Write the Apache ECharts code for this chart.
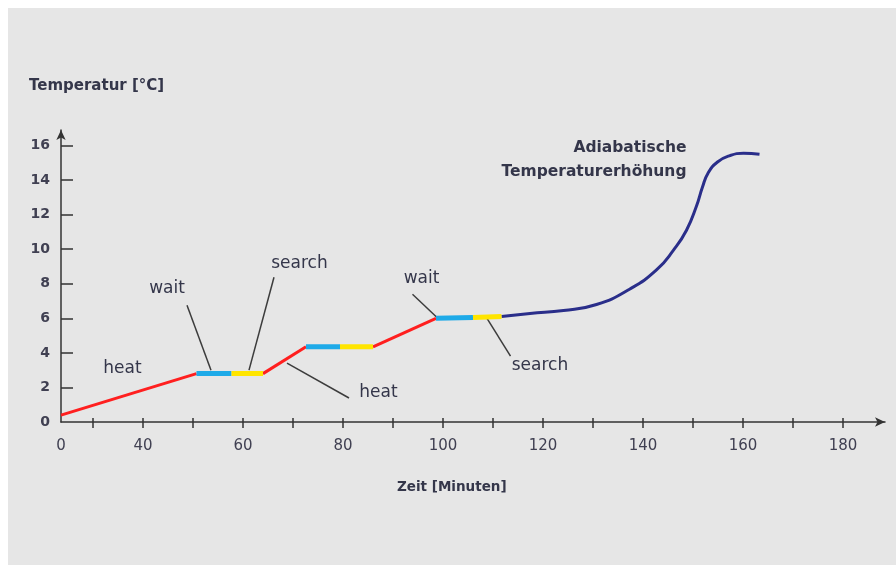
<!DOCTYPE html>
<html>
<head>
<meta charset="utf-8">
<script src="https://cdn.jsdelivr.net/npm/echarts@6/dist/echarts.min.js"></script>
<style>
html,body{margin:0;padding:0;background:#fff;}
#c{width:896px;height:565px;}
</style>
</head>
<body>
<div id="c"></div>
<script>
// ---- data (x: axis units in minutes, y: °C) ----
const xTickValues = [30, 40, 50, 60, 70, 80, 90, 100, 110, 120, 130, 140, 150, 160, 170, 180];
const xLabelValues = [23.6, 40, 60, 80, 100, 120, 140, 160, 180];
const yTickValues = [2, 4, 6, 8, 10, 12, 14, 16];
const yLabelValues = [0, 2, 4, 6, 8, 10, 12, 14, 16];

const heat1 = [[23.6, 0.4], [50.7, 2.8]];
const wait1 = [[50.7, 2.8], [57.7, 2.8]];
const search1 = [[57.7, 2.8], [64.0, 2.8]];
const heat2 = [[64.0, 2.8], [72.6, 4.35]];
const wait2 = [[72.6, 4.35], [79.4, 4.35]];
const search2 = [[79.4, 4.35], [86.0, 4.35]];
const heat3 = [[86.0, 4.35], [98.6, 6.0]];
const wait3 = [[98.6, 6.0], [106.0, 6.05]];
const search3 = [[106.0, 6.05], [111.7, 6.1]];
const adiabatic = [
  [111.7, 6.1], [117.4, 6.28], [124.1, 6.45], [130.7, 6.8], [137.4, 7.7],
  [142.7, 8.8], [146.1, 9.95], [148.7, 11.1], [150.7, 12.5], [151.9, 13.6],
  [153.0, 14.4], [154.9, 15.05], [157.4, 15.42], [160.1, 15.55], [163.3, 15.5]
];

const leaderLines = [
  [[48.8, 6.76], [53.6, 3.0]],
  [[66.2, 8.38], [61.2, 3.0]],
  [[68.8, 3.41], [81.2, 1.39]],
  [[93.9, 7.39], [98.7, 6.08]],
  [[108.8, 6.0], [113.5, 3.81]]
];
const phaseLabels = [
  {name: 'heat', value: [35.9, 3.12]},
  {name: 'wait', value: [44.8, 7.74]},
  {name: 'search', value: [71.3, 9.19]},
  {name: 'heat', value: [87.1, 1.68]},
  {name: 'wait', value: [95.7, 8.32]},
  {name: 'search', value: [119.4, 3.24]}
];
const curveLabels = [
  {name: 'Adiabatische', value: [148.7, 15.87]},
  {name: 'Temperaturerhöhung', value: [148.7, 14.46]}
];

const RED = '#ff1f1f', BLUE = '#1eaae8', YELLOW = '#ffe500', NAVY = '#2a2e8a';
const TXT = '#34364a';
const FONT = "'DejaVu Sans', sans-serif";

function seg(data, color, width, z) {
  return {
    type: 'line', data: data, showSymbol: false, symbol: 'none', silent: true,
    lineStyle: {color: color, width: width, cap: 'butt'}, z: z
  };
}

const chart = echarts.init(document.getElementById('c'), null, {renderer: 'canvas'});
chart.setOption({
  animation: false,
  backgroundColor: '#ffffff',
  graphic: [{
    type: 'rect', z: -100, silent: true,
    shape: {x: 8, y: 8, width: 888, height: 557},
    style: {fill: '#e6e6e6'}
  }],
  title: [
    {text: 'Temperatur [°C]', left: 29, top: 79, padding: 0,
     textStyle: {fontFamily: FONT, fontWeight: 'bold', fontSize: 15, color: TXT}},
    {text: 'Zeit [Minuten]', left: 397, top: 480, padding: 0,
     textStyle: {fontFamily: FONT, fontWeight: 'bold', fontSize: 13.5, color: TXT}}
  ],
  grid: {left: 61, right: 11, top: 130, bottom: 143, containLabel: false},
  xAxis: [{
    type: 'value', min: 23.6, max: 188.4, position: 'bottom',
    splitLine: {show: false},
    axisLine: {show: true, onZero: false, symbol: ['none', 'arrow'], symbolSize: [7, 10],
      lineStyle: {color: '#333', width: 1.5}},
    axisTick: {show: true, inside: false, length: 6, customValues: xTickValues,
      lineStyle: {color: '#333', width: 1.5}},
    axisLabel: {show: true, customValues: xLabelValues, margin: 17,
      fontFamily: FONT, fontSize: 15, color: '#404052',
      formatter: function (v) { return v < 30 ? '0' : String(v); }}
  }, {
    type: 'value', min: 23.6, max: 188.4, position: 'bottom',
    splitLine: {show: false},
    axisLine: {show: false, onZero: false},
    axisTick: {show: true, inside: true, length: 4, customValues: xTickValues,
      lineStyle: {color: '#333', width: 1.5}},
    axisLabel: {show: false}
  }],
  yAxis: {
    type: 'value', min: 0, max: 16.9,
    splitLine: {show: false},
    axisLine: {show: true, symbol: ['none', 'arrow'], symbolSize: [7, 10],
      lineStyle: {color: '#333', width: 1.5}},
    axisTick: {show: true, inside: true, length: 12, customValues: yTickValues,
      lineStyle: {color: '#333', width: 1.5}},
    axisLabel: {show: true, customValues: yLabelValues, margin: 11,
      fontFamily: FONT, fontWeight: 'bold', fontSize: 14, color: '#404052'}
  },
  series: [
    seg(heat1, RED, 3, 3), seg(heat2, RED, 3, 3), seg(heat3, RED, 3, 3),
    seg(wait1, BLUE, 5, 4), seg(wait2, BLUE, 5, 4), seg(wait3, BLUE, 5, 4),
    seg(search1, YELLOW, 5, 4), seg(search2, YELLOW, 5, 4), seg(search3, YELLOW, 5, 4),
    {
      type: 'line', data: adiabatic, smooth: 0.5,
      showSymbol: false, symbol: 'none', silent: true, z: 3,
      lineStyle: {color: NAVY, width: 3}
    },
    {
      type: 'lines', coordinateSystem: 'cartesian2d', silent: true, z: 2,
      data: leaderLines.map(function (c) { return {coords: c}; }),
      lineStyle: {color: '#3c3c3c', width: 1.5, opacity: 1}
    },
    {
      type: 'scatter', data: phaseLabels, symbolSize: 0, silent: true, z: 5,
      itemStyle: {opacity: 1},
      label: {show: true, position: 'inside', formatter: '{b}',
        fontFamily: FONT, fontSize: 17, color: TXT}
    },
    {
      type: 'scatter', data: curveLabels, symbolSize: 0, silent: true, z: 5,
      itemStyle: {opacity: 1},
      label: {show: true, position: 'inside', align: 'right', formatter: '{b}',
        fontFamily: FONT, fontWeight: 'bold', fontSize: 15.5, color: TXT}
    }
  ]
});
</script>
</body>
</html>
